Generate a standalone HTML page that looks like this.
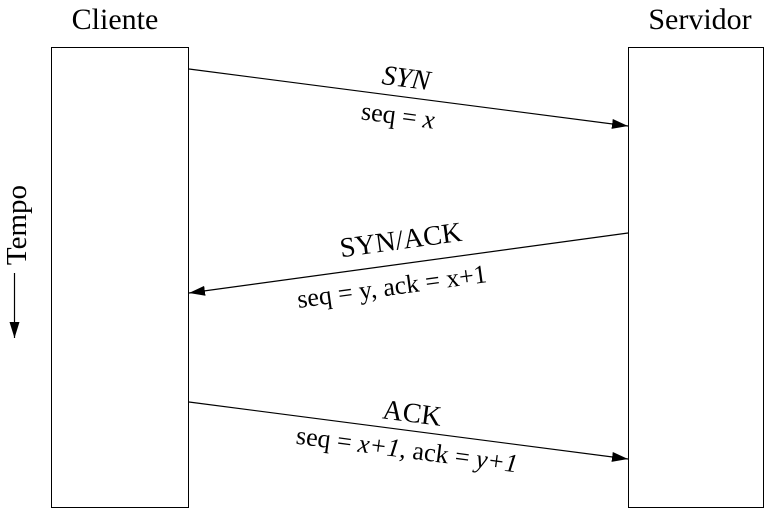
<!DOCTYPE html>
<html><head><meta charset="utf-8"><style>
html,body{margin:0;padding:0;background:#fff;}
svg{display:block;font-family:"Liberation Serif",serif;}
</style></head><body>
<svg width="769" height="508" viewBox="0 0 769 508">
<defs><marker id="ah" markerWidth="16" markerHeight="10" refX="16" refY="5" orient="auto" markerUnits="userSpaceOnUse"><path d="M0,0 L16,5 L0,10 Z" fill="#000"/></marker></defs>
<text x="115" y="29" font-size="30" text-anchor="middle">Cliente</text>
<text x="700" y="29" font-size="30" text-anchor="middle">Servidor</text>
<rect x="51.5" y="47.5" width="137" height="460" fill="none" stroke="#000" stroke-width="1"/>
<rect x="628.5" y="47.5" width="135" height="460" fill="none" stroke="#000" stroke-width="1"/>
<g>
<text transform="translate(26,225) rotate(-90)" font-size="29" text-anchor="middle">Tempo</text>
<line x1="14.5" y1="273" x2="14.5" y2="338" stroke="#000" stroke-width="1.2" marker-end="url(#ah)"/>
</g>
<line x1="189" y1="69" x2="628" y2="126" stroke="#000" stroke-width="1.2" marker-end="url(#ah)"/>
<text transform="translate(405,87) rotate(7.4)" font-size="28" font-style="italic" text-anchor="middle">SYN</text>
<text transform="translate(397,124) rotate(7.4)" font-size="26" text-anchor="middle">seq = <tspan font-style="italic">x</tspan></text>
<line x1="628" y1="233" x2="189" y2="293" stroke="#000" stroke-width="1.2" marker-end="url(#ah)"/>
<text transform="translate(402,249) rotate(-7.8)" font-size="28" text-anchor="middle">SYN/ACK</text>
<text transform="translate(393,295) rotate(-7.8)" font-size="26" text-anchor="middle">seq = y, ack = x+1</text>
<line x1="189" y1="402" x2="628" y2="459" stroke="#000" stroke-width="1.2" marker-end="url(#ah)"/>
<text transform="translate(411,422) rotate(7.4)" font-size="28" text-anchor="middle">ACK</text>
<text transform="translate(406,458) rotate(7.4)" font-size="26" text-anchor="middle">seq = <tspan font-style="italic">x+1</tspan>, ack = <tspan font-style="italic">y+1</tspan></text>
</svg>
</body></html>
